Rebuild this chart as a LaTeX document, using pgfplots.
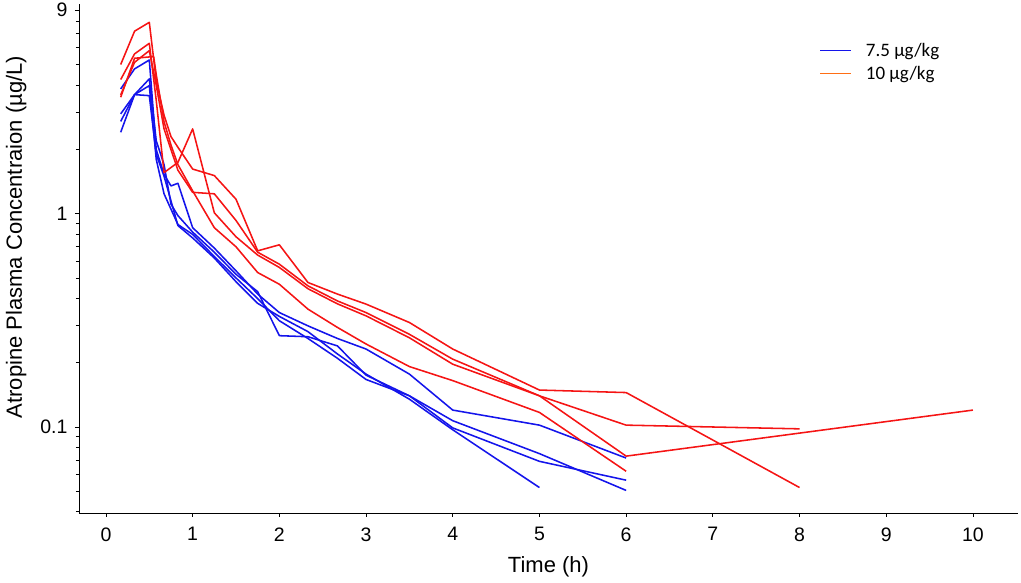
\documentclass[border=0pt]{standalone}
\usepackage{pgfplots}
\pgfplotsset{compat=1.18}
\usepackage{fontspec}
\setmainfont{Liberation Sans}
\newfontfamily\legfont{Carlito}
\definecolor{cblue}{RGB}{20,20,235}
\definecolor{cred}{RGB}{245,20,20}
\definecolor{corange}{RGB}{255,110,20}

\pgfplotstableread{
t c
0.17 3.85
0.33 4.78
0.5 5.26
0.58 2.0
0.67 1.53
0.75 1.35
0.83 1.39
1 0.86
1.25 0.69
1.5 0.54
1.75 0.42
2 0.344
2.33 0.298
2.67 0.26
3 0.232
3.5 0.177
4 0.12
5 0.102
6 0.0715
}\bA
\pgfplotstableread{
t c
0.17 2.94
0.33 3.62
0.5 4.29
0.58 2.2
0.67 1.7
0.75 1.11
0.83 0.98
1 0.82
1.25 0.66
1.5 0.52
1.75 0.431
2 0.268
2.33 0.265
2.67 0.24
3 0.175
3.5 0.14
4 0.099
5 0.069
6 0.0563
}\bB
\pgfplotstableread{
t c
0.17 2.71
0.33 3.62
0.5 3.99
0.58 1.8
0.67 1.24
0.83 0.89
1 0.80
1.25 0.63
1.5 0.50
1.75 0.40
2 0.315
2.33 0.26
2.67 0.21
3 0.167
3.5 0.14
4 0.107
5 0.075
6 0.0504
}\bC
\pgfplotstableread{
t c
0.17 2.41
0.33 3.62
0.5 3.58
0.58 1.9
0.67 1.5
0.83 0.88
1 0.77
1.25 0.62
1.5 0.48
1.75 0.38
2 0.33
2.33 0.28
2.67 0.22
3 0.177
3.5 0.135
4 0.097
5 0.052
}\bD
\pgfplotstableread{
t c
0.17 5.01
0.33 7.18
0.5 7.9
0.58 4.2
0.67 2.9
0.75 2.3
0.83 2.05
1 1.62
1.25 1.51
1.5 1.17
1.75 0.67
2 0.715
2.33 0.476
2.67 0.42
3 0.377
3.5 0.309
4 0.232
5 0.149
6 0.145
8 0.052
}\rA
\pgfplotstableread{
t c
0.17 4.26
0.33 5.62
0.5 6.30
0.58 3.4
0.67 1.56
0.83 1.74
1 2.5
1.25 1.01
1.5 0.78
1.75 0.64
2 0.56
2.33 0.445
2.67 0.378
3 0.332
3.5 0.262
4 0.197
5 0.14
6 0.073
10 0.12
}\rB
\pgfplotstableread{
t c
0.17 3.61
0.33 5.13
0.5 5.82
0.58 4.0
0.67 2.5
0.75 2.0
0.83 1.6
1 1.26
1.25 1.24
1.5 0.93
1.75 0.66
2 0.58
2.33 0.459
2.67 0.39
3 0.344
3.5 0.272
4 0.208
5 0.14
6 0.102
8 0.098
}\rC
\pgfplotstableread{
t c
0.17 3.52
0.33 5.36
0.55 5.46
0.58 4.5
0.67 2.7
0.75 2.1
0.83 1.7
1 1.28
1.25 0.86
1.5 0.70
1.75 0.53
2 0.467
2.33 0.357
2.67 0.293
3 0.245
3.5 0.192
4 0.165
5 0.117
6 0.062
}\rD

\begin{document}
\begin{tikzpicture}
\begin{axis}[
  at={(0,0)}, anchor=south west,
  scale only axis, width=939pt, height=509pt,
  xmin=-0.311, xmax=10.52,
  ymode=log, ymin=0.0395, ymax=9.63,
  axis x line=bottom, axis y line=left,
  axis line style={-, line width=0.8pt},
  tick align=outside,
  major tick length=4pt, minor tick length=3pt,
  every tick/.style={black, line width=0.7pt},
  xtick={0,1,...,10}, xticklabels={0,1,2,3,4,5,6,7,8,9,10},
  ytick={0.1,1,9}, yticklabels={0.1,1,9},
  minor ytick={0.04,0.05,0.06,0.07,0.08,0.09,0.2,0.3,0.4,0.5,0.6,0.7,0.8,0.9,2,3,4,5,6,7,8},
  tick label style={font=\fontsize{19.5}{20}\selectfont},
  xticklabel style={yshift=-7pt},
  yticklabel style={xshift=-4pt},
  xlabel={Time (h)}, ylabel={Atropine Plasma Concentraion (µg/L)},
  label style={font=\fontsize{22}{24}\selectfont},
  xlabel style={yshift=-8pt},
  ylabel style={at={(ticklabel cs:0.542)}, yshift=7pt},
  legend style={draw=none, fill=none, at={(0.785,0.931)}, anchor=north west,
    font=\legfont\fontsize{19}{21}\selectfont, row sep=4pt,
    /tikz/every odd column/.append style={column sep=12pt}},
  legend cell align=left,
  legend image code/.code={\draw[#1, line width=1.6pt] (0pt,0pt) -- (31pt,0pt);},
  every axis plot/.append style={line width=1.55pt, line join=round},
]
\addplot[cblue, forget plot] table[x=t,y=c] {\bA};
\addplot[cblue, forget plot] table[x=t,y=c] {\bB};
\addplot[cblue, forget plot] table[x=t,y=c] {\bC};
\addplot[cblue, forget plot] table[x=t,y=c] {\bD};
\addplot[cred, forget plot] table[x=t,y=c] {\rA};
\addplot[cred, forget plot] table[x=t,y=c] {\rB};
\addplot[cred, forget plot] table[x=t,y=c] {\rC};
\addplot[cred, forget plot] table[x=t,y=c] {\rD};
\addlegendimage{cblue}
\addlegendentry{7.5 µg/kg}
\addlegendimage{corange}
\addlegendentry{10 µg/kg}
\end{axis}
\pgfresetboundingbox
\path[use as bounding box] (-79pt,-69pt) rectangle (942pt,513pt);
\end{tikzpicture}
\end{document}
